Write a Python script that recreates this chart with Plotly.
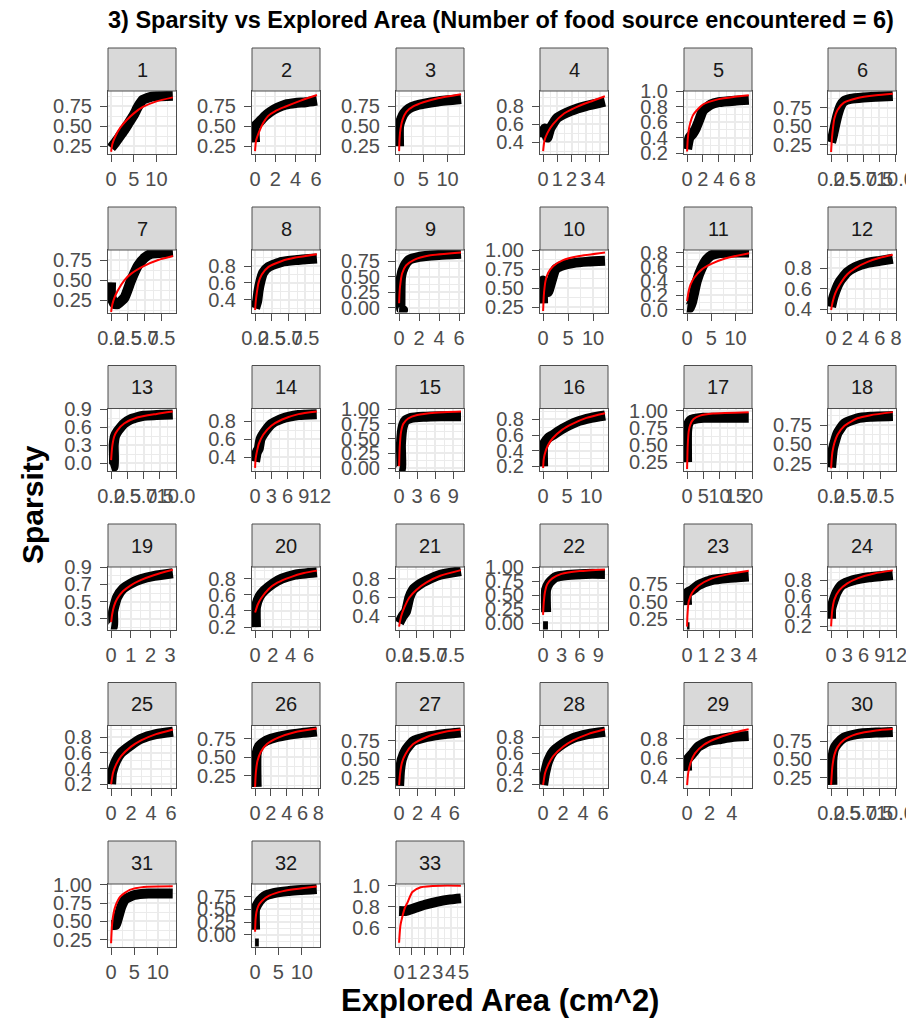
import plotly.graph_objects as go

# ---------------- data ----------------
panel_labels = ["1", "2", "3", "4", "5", "6", "7", "8", "9", "10", "11", "12",
                "13", "14", "15", "16", "17", "18", "19", "20", "21", "22", "23", "24",
                "25", "26", "27", "28", "29", "30", "31", "32", "33"]

# x tick sets
XA_V, XA_T = [0, 5, 10], ["0", "5", "10"]
XB_V, XB_T = [0, 2, 4, 6], ["0", "2", "4", "6"]
XC_V, XC_T = [0, 1, 2, 3, 4], ["0", "1", "2", "3", "4"]
XD_V, XD_T = [0, 2, 4, 6, 8], ["0", "2", "4", "6", "8"]
XE_V, XE_T = [0, 2.5, 5, 7.5, 10], ["0.0", "2.5", "5.0", "7.5", "10.0"]
XF_V, XF_T = [0, 2.5, 5, 7.5], ["0.0", "2.5", "5.0", "7.5"]
XG_V, XG_T = [0, 3, 6, 9, 12], ["0", "3", "6", "9", "12"]
XH_V, XH_T = [0, 3, 6, 9], ["0", "3", "6", "9"]
XI_V, XI_T = [0, 5, 10, 15, 20], ["0", "5", "10", "15", "20"]
XJ_V, XJ_T = [0, 1, 2, 3], ["0", "1", "2", "3"]
XK_V, XK_T = [0, 2, 4], ["0", "2", "4"]
XL_V, XL_T = [0, 1, 2, 3, 4, 5], ["0", "1", "2", "3", "4", "5"]

# y tick sets
YA_V, YA_T = [0.25, 0.5, 0.75], ["0.25", "0.50", "0.75"]
YB_V, YB_T = [0.4, 0.6, 0.8], ["0.4", "0.6", "0.8"]
YC_V, YC_T = [0.2, 0.4, 0.6, 0.8, 1.0], ["0.2", "0.4", "0.6", "0.8", "1.0"]
YD_V, YD_T = [0, 0.25, 0.5, 0.75], ["0.00", "0.25", "0.50", "0.75"]
YE_V, YE_T = [0.25, 0.5, 0.75, 1.0], ["0.25", "0.50", "0.75", "1.00"]
YF_V, YF_T = [0, 0.2, 0.4, 0.6, 0.8], ["0.0", "0.2", "0.4", "0.6", "0.8"]
YG_V, YG_T = [0, 0.3, 0.6, 0.9], ["0.0", "0.3", "0.6", "0.9"]
YH_V, YH_T = [0, 0.25, 0.5, 0.75, 1.0], ["0.00", "0.25", "0.50", "0.75", "1.00"]
YI_V, YI_T = [0.2, 0.4, 0.6, 0.8], ["0.2", "0.4", "0.6", "0.8"]
YJ_V, YJ_T = [0.3, 0.5, 0.7, 0.9], ["0.3", "0.5", "0.7", "0.9"]
YK_V, YK_T = [0.6, 0.8, 1.0], ["0.6", "0.8", "1.0"]

x_tick_vals = [XA_V, XB_V, XA_V, XC_V, XD_V, XE_V,
               XF_V, XF_V, XB_V, XA_V, XA_V, XD_V,
               XE_V, XG_V, XH_V, XA_V, XI_V, XF_V,
               XJ_V, XB_V, XF_V, XH_V, XC_V, XG_V,
               XB_V, XD_V, XB_V, XB_V, XK_V, XE_V,
               XA_V, XA_V, XL_V]
x_tick_text = [XA_T, XB_T, XA_T, XC_T, XD_T, XE_T,
               XF_T, XF_T, XB_T, XA_T, XA_T, XD_T,
               XE_T, XG_T, XH_T, XA_T, XI_T, XF_T,
               XJ_T, XB_T, XF_T, XH_T, XC_T, XG_T,
               XB_T, XD_T, XB_T, XB_T, XK_T, XE_T,
               XA_T, XA_T, XL_T]
y_tick_vals = [YA_V, YA_V, YA_V, YB_V, YC_V, YA_V,
               YA_V, YB_V, YD_V, YE_V, YF_V, YB_V,
               YG_V, YB_V, YH_V, YI_V, YE_V, YA_V,
               YJ_V, YI_V, YB_V, YH_V, YA_V, YI_V,
               YI_V, YA_V, YA_V, YI_V, YB_V, YA_V,
               YE_V, YD_V, YK_V]
y_tick_text = [YA_T, YA_T, YA_T, YB_T, YC_T, YA_T,
               YA_T, YB_T, YD_T, YE_T, YF_T, YB_T,
               YG_T, YB_T, YH_T, YI_T, YE_T, YA_T,
               YJ_T, YI_T, YB_T, YH_T, YA_T, YI_T,
               YI_T, YA_T, YA_T, YI_T, YB_T, YA_T,
               YE_T, YD_T, YK_T]

x_ranges = [[-0.68, 14.3], [-0.3, 6.4], [-0.64, 13.4], [-0.22, 4.57], [-0.39, 8.2], [-0.48, 10.1],
            [-0.46, 9.66], [-0.46, 9.66], [-0.31, 6.5], [-0.62, 13.0], [-0.64, 13.4], [-0.38, 8.0],
            [-0.48, 10.0], [-0.57, 12.0], [-0.52, 10.8], [-0.65, 13.5], [-0.95, 20.0], [-0.47, 9.87],
            [-0.16, 3.3], [-0.35, 7.3], [-0.45, 9.45], [-0.5, 10.6], [-0.19, 4.0], [-0.57, 12.0],
            [-0.31, 6.5], [-0.39, 8.2], [-0.34, 7.05], [-0.31, 6.5], [-0.28, 5.8], [-0.48, 10.1],
            [-0.66, 13.9], [-0.66, 13.9], [-0.24, 5.04]]
y_ranges = [[0.158, 0.94], [0.16, 0.94], [0.16, 0.94], [0.273, 0.968], [0.195, 1.005], [0.13, 0.978],
            [0.094, 0.876], [0.25, 0.99], [-0.08, 0.93], [0.18, 1.003], [-0.04, 0.835], [0.366, 0.976],
            [-0.13, 0.91], [0.245, 0.943], [-0.05, 1.01], [0.142, 0.94], [0.12, 1.035], [0.156, 0.967],
            [0.175, 0.903], [0.17, 0.945], [0.26, 0.923], [-0.11, 1.003], [0.11, 0.983], [0.16, 0.974],
            [0.152, 0.95], [0.086, 0.93], [0.11, 0.955], [0.162, 0.948], [0.29, 0.94], [0.107, 0.968],
            [0.155, 1.01], [-0.23, 1.0], [0.424, 1.016]]

black_x = [
    [0, 1, 2, 3, 4, 5, 6, 7, 9, 11, 13.6],
    [0, 0, 0.4, 1, 1.5, 2.2, 3, 4, 5, 6.1],
    [0, 0, 0.5, 1, 2, 3.5, 5, 8, 12.8],
    [0, 0.1, 0.3, 0.5, 1, 2, 3, 4.35],
    [0, 0.3, 0.7, 1.1, 1.5, 2, 3, 4, 6, 7.8],
    [0, 0.3, 0.6, 1, 1.5, 2, 3, 5, 7, 9.6],
    [0, 0, 0.5, 1, 2, 3, 4, 5, 6, 7.5, 9.2],
    [0, 0.3, 0.5, 0.8, 1.2, 2, 4, 6, 9.2],
    [0, 0.4, 0.2, 0.2, 0.5, 1, 2, 4, 6.2],
    [0, 0, 0.5, 1, 1.5, 2.5, 4, 6, 9, 12.4],
    [0, 0.5, 1, 1.5, 2, 3, 4, 5, 6.5, 9, 12.8],
    [0, 0.3, 1, 2, 3, 4.5, 6, 7.6],
    [0, 0.4, 0.4, 0.6, 1, 1.5, 2, 3, 5, 7, 9.5],
    [0, 0.3, 0.7, 1, 2, 3, 5, 8, 11.4],
    [0, 0.3, 0.3, 0.6, 1, 2, 4, 7, 10.3],
    [0, 0, 0.3, 1, 2, 4, 7, 10, 12.9],
    [0, 0, 0.3, 1, 2, 5, 10, 19],
    [0, 0.1, 0.3, 1, 2, 4, 6, 9.4],
    [0, 0.1, 0.1, 0.3, 0.6, 1, 1.5, 2.2, 3.14],
    [0.1, 0.1, 0.5, 1, 2, 3, 4.5, 6.95],
    [0, 0.5, 1, 1.5, 2, 3, 4, 6, 9],
    [0, 0.8, None, 0.5, 0.5, 1, 2, 4, 7, 10.1],
    [0, 0.15, None, 0, 0, 0.3, 0.7, 1.5, 2.5, 3.8],
    [0, 0, 0.3, 1, 2, 4, 7, 11.4],
    [0, 0.1, 0.5, 1, 2, 3, 4.5, 6.2],
    [0.2, 0.2, 0.5, 1, 2, 4, 6, 7.8],
    [0, 0.1, 0.3, 0.7, 1.5, 3, 5, 6.7],
    [0, 0.2, 0.5, 1, 2, 3, 4.5, 6.2],
    [0, 0, 0.5, 1, 2, 3, 4, 5.5],
    [0.2, 0.2, 0.5, 1, 2, 4, 7, 9.6],
    [0, 0.5, 1, 1.5, 2.2, 3, 5, 8, 13.2],
    [0, 0.8, None, 0, 0, 0.5, 1, 2, 4, 7, 13.2],
    [0, 0.5, 1, 2, 3, 4, 4.8],
]
black_y = [
    [0.23, 0.3, 0.38, 0.46, 0.55, 0.64, 0.75, 0.83, 0.87, 0.875, 0.88],
    [0.3, 0.5, 0.55, 0.63, 0.68, 0.73, 0.77, 0.79, 0.8, 0.82],
    [0.25, 0.5, 0.6, 0.66, 0.72, 0.76, 0.78, 0.81, 0.84],
    [0.45, 0.55, 0.45, 0.55, 0.67, 0.75, 0.8, 0.85],
    [0.25, 0.4, 0.45, 0.52, 0.62, 0.75, 0.83, 0.86, 0.88, 0.89],
    [0.28, 0.38, 0.5, 0.65, 0.78, 0.84, 0.87, 0.89, 0.9, 0.91],
    [0.47, 0.3, 0.2, 0.2, 0.28, 0.5, 0.68, 0.78, 0.83, 0.84, 0.85],
    [0.3, 0.38, 0.5, 0.62, 0.72, 0.79, 0.85, 0.87, 0.89],
    [-0.04, -0.04, -0.02, 0.5, 0.66, 0.77, 0.82, 0.85, 0.87],
    [0.3, 0.6, 0.55, 0.45, 0.55, 0.75, 0.8, 0.83, 0.85, 0.86],
    [0.02, 0.02, 0.1, 0.25, 0.4, 0.58, 0.7, 0.76, 0.79, 0.8, 0.8],
    [0.42, 0.52, 0.66, 0.76, 0.81, 0.85, 0.87, 0.89],
    [-0.08, -0.06, 0.3, 0.45, 0.53, 0.6, 0.66, 0.73, 0.79, 0.8, 0.81],
    [0.35, 0.45, 0.5, 0.6, 0.7, 0.77, 0.83, 0.87, 0.88],
    [-0.03, -0.03, 0.4, 0.7, 0.8, 0.85, 0.87, 0.88, 0.88],
    [0.2, 0.45, 0.5, 0.56, 0.6, 0.68, 0.77, 0.82, 0.85],
    [0.25, 0.7, 0.8, 0.86, 0.88, 0.9, 0.9, 0.9],
    [0.2, 0.3, 0.45, 0.65, 0.77, 0.84, 0.86, 0.87],
    [0.21, 0.21, 0.38, 0.55, 0.65, 0.71, 0.76, 0.8, 0.83],
    [0.2, 0.45, 0.58, 0.65, 0.74, 0.8, 0.85, 0.88],
    [0.33, 0.4, 0.45, 0.6, 0.68, 0.74, 0.78, 0.84, 0.88],
    [-0.05, -0.05, None, 0.2, 0.6, 0.72, 0.82, 0.86, 0.88, 0.88],
    [0.14, 0.14, None, 0.45, 0.62, 0.66, 0.73, 0.8, 0.83, 0.85],
    [0.3, 0.42, 0.5, 0.64, 0.74, 0.8, 0.84, 0.87],
    [0.2, 0.35, 0.5, 0.6, 0.7, 0.78, 0.84, 0.87],
    [0.1, 0.55, 0.65, 0.7, 0.75, 0.8, 0.83, 0.85],
    [0.14, 0.35, 0.5, 0.62, 0.74, 0.8, 0.84, 0.86],
    [0.2, 0.35, 0.5, 0.62, 0.72, 0.79, 0.84, 0.87],
    [0.47, 0.58, 0.65, 0.72, 0.78, 0.8, 0.82, 0.83],
    [0.15, 0.5, 0.65, 0.72, 0.8, 0.85, 0.87, 0.88],
    [0.45, 0.45, 0.45, 0.55, 0.7, 0.8, 0.86, 0.88, 0.88],
    [-0.17, -0.17, None, 0.1, 0.5, 0.6, 0.67, 0.76, 0.82, 0.86, 0.9],
    [0.76, 0.76, 0.78, 0.82, 0.85, 0.87, 0.88],
]

# fitted curve (red)
red_x = [
    [0, 0.3, 1, 2, 3.5, 5, 7, 10, 13.6],
    [0, 0.1, 0.4, 0.8, 1.3, 2, 2.9, 4.5, 6.1],
    [0, 0.1, 0.3, 0.7, 1.5, 3, 5, 8, 12.8],
    [0, 0.1, 0.3, 0.7, 1.5, 2.5, 3.5, 4.35],
    [0, 0.1, 0.3, 0.8, 2, 4, 6, 7.8],
    [0, 0.1, 0.2, 0.5, 1, 2, 4, 7, 9.6],
    [0, 0.2, 0.5, 1, 2, 3, 5, 7, 9.2],
    [0, 0.1, 0.2, 0.5, 1, 2, 4, 6, 9.2],
    [0, 0.05, 0.1, 0.3, 0.7, 1.5, 3, 6.2],
    [0, 0.1, 0.2, 0.5, 1, 2, 4, 7, 12.4],
    [0, 0.3, 0.7, 1.5, 3, 5, 8, 12.8],
    [0, 0.2, 0.5, 1, 2, 3, 4.5, 6, 7.6],
    [0, 0.1, 0.2, 0.5, 1, 2, 4, 7, 9.5],
    [0, 0.1, 0.3, 0.7, 1.5, 3, 5, 8, 11.4],
    [0, 0.05, 0.1, 0.3, 0.7, 1.5, 3, 6, 10.3],
    [0, 0.1, 0.3, 1, 2, 4, 6, 9, 12.9],
    [0, 0.1, 0.2, 0.5, 1, 2, 4, 8, 19],
    [0, 0.1, 0.2, 0.5, 1, 2, 4, 6, 9.4],
    [0, 0.05, 0.15, 0.3, 0.6, 1, 1.5, 2.2, 3.14],
    [0, 0.3, 0.7, 1.5, 2.5, 4, 5.5, 6.95],
    [0, 0.3, 0.8, 1.5, 2.5, 4, 6, 9],
    [0, 0.1, 0.3, 0.7, 1.5, 3, 6, 10.1],
    [0, 0.02, 0.1, 0.3, 0.7, 1.5, 2.5, 3.8],
    [0, 0.2, 0.6, 1.5, 3, 5, 8, 11.4],
    [0, 0.2, 0.5, 1, 2, 3, 4.5, 6.2],
    [0, 0.1, 0.3, 0.7, 1.5, 3, 5, 7.8],
    [0, 0.1, 0.3, 0.7, 1.5, 3, 5, 6.7],
    [0, 0.2, 0.5, 1, 2, 3, 4.5, 6.2],
    [0, 0.1, 0.3, 0.7, 1.5, 2.5, 4, 5.5],
    [0, 0.2, 0.5, 1, 2, 4, 7, 9.6],
    [0, 0.2, 0.5, 1, 2, 4, 7, 13.2],
    [0, 0.1, 0.3, 0.7, 1.5, 3, 6, 13.2],
    [0, 0.1, 0.26, 0.45, 0.65, 1.03, 1.68, 3.2, 4.8],
]
red_y = [
    [0.18, 0.28, 0.38, 0.48, 0.58, 0.66, 0.74, 0.81, 0.86],
    [0.19, 0.32, 0.43, 0.54, 0.63, 0.69, 0.74, 0.82, 0.89],
    [0.19, 0.35, 0.47, 0.58, 0.68, 0.75, 0.8, 0.85, 0.9],
    [0.3, 0.42, 0.5, 0.6, 0.72, 0.8, 0.86, 0.91],
    [0.22, 0.4, 0.55, 0.7, 0.83, 0.9, 0.93, 0.95],
    [0.15, 0.3, 0.4, 0.6, 0.72, 0.82, 0.88, 0.92, 0.94],
    [0.1, 0.2, 0.28, 0.37, 0.5, 0.58, 0.68, 0.75, 0.8],
    [0.28, 0.38, 0.45, 0.6, 0.7, 0.79, 0.86, 0.9, 0.94],
    [0.07, 0.25, 0.35, 0.55, 0.68, 0.77, 0.84, 0.89],
    [0.2, 0.35, 0.45, 0.6, 0.7, 0.79, 0.87, 0.92, 0.97],
    [0.12, 0.25, 0.35, 0.45, 0.56, 0.64, 0.72, 0.79],
    [0.39, 0.47, 0.55, 0.63, 0.74, 0.8, 0.86, 0.9, 0.93],
    [0.05, 0.2, 0.3, 0.45, 0.55, 0.66, 0.76, 0.82, 0.86],
    [0.28, 0.38, 0.45, 0.55, 0.65, 0.75, 0.82, 0.88, 0.91],
    [0.03, 0.22, 0.35, 0.6, 0.75, 0.84, 0.9, 0.94, 0.96],
    [0.18, 0.28, 0.35, 0.47, 0.56, 0.67, 0.74, 0.82, 0.88],
    [0.15, 0.35, 0.5, 0.7, 0.8, 0.88, 0.93, 0.96, 0.98],
    [0.19, 0.32, 0.4, 0.52, 0.63, 0.74, 0.84, 0.88, 0.92],
    [0.26, 0.35, 0.45, 0.53, 0.62, 0.69, 0.75, 0.81, 0.87],
    [0.38, 0.48, 0.56, 0.67, 0.75, 0.82, 0.87, 0.9],
    [0.29, 0.4, 0.5, 0.6, 0.68, 0.76, 0.83, 0.89],
    [0.15, 0.35, 0.55, 0.7, 0.8, 0.88, 0.93, 0.96],
    [0.15, 0.3, 0.5, 0.62, 0.72, 0.82, 0.88, 0.93],
    [0.2, 0.4, 0.55, 0.67, 0.76, 0.83, 0.89, 0.93],
    [0.2, 0.35, 0.45, 0.56, 0.68, 0.76, 0.84, 0.9],
    [0.1, 0.3, 0.45, 0.57, 0.68, 0.77, 0.84, 0.89],
    [0.15, 0.3, 0.45, 0.57, 0.7, 0.8, 0.87, 0.9],
    [0.2, 0.35, 0.45, 0.56, 0.68, 0.76, 0.84, 0.9],
    [0.32, 0.45, 0.55, 0.65, 0.74, 0.8, 0.86, 0.9],
    [0.15, 0.4, 0.56, 0.67, 0.77, 0.85, 0.9, 0.92],
    [0.2, 0.45, 0.6, 0.72, 0.84, 0.93, 0.97, 0.98],
    [0.06, 0.3, 0.45, 0.57, 0.67, 0.77, 0.86, 0.95],
    [0.46, 0.62, 0.71, 0.79, 0.84, 0.94, 0.985, 1.0, 1.0],
]

# ---------------- layout geometry (pixels in the browser window) ----------------
W, H = 914, 1020
PAGE_OFF = 8          # the page body margin shifts the figure by this much
COL_LEFT = [108, 252, 396, 540, 684, 828]
ROW_TOP = [91, 250, 408.5, 567, 725.5, 884]
PW, PH, SH = 68, 62.5, 43
FONT = "Liberation Sans, Arial, Helvetica, sans-serif"
TICKFONT = dict(family=FONT, size=20, color="#4D4D4D")


def px(x):
    return (x - PAGE_OFF) / W


def py(y):
    return 1 - (y - PAGE_OFF) / H


def minor_vals(vals):
    step = vals[1] - vals[0]
    return [vals[0] - step / 2] + [v + step / 2 for v in vals]


fig = go.Figure()
layout = {}
shapes = []
annotations = []

for i, lab in enumerate(panel_labels):
    r, c = divmod(i, 6)
    suffix = "" if i == 0 else str(i + 1)
    xa, ya = "x" + suffix, "y" + suffix
    fig.add_trace(go.Scatter(x=black_x[i], y=black_y[i], mode="lines",
                             line=dict(color="black", width=10, shape="spline", smoothing=0.5),
                             xaxis=xa, yaxis=ya, showlegend=False, hoverinfo="skip"))
    fig.add_trace(go.Scatter(x=red_x[i], y=red_y[i], mode="lines",
                             line=dict(color="#FF0000", width=2, shape="spline", smoothing=0.6),
                             xaxis=xa, yaxis=ya, showlegend=False, hoverinfo="skip"))
    L, T = COL_LEFT[c], ROW_TOP[r]
    common = dict(showline=True, mirror=True, linecolor="#4D4D4D", linewidth=1,
                  showgrid=True, gridcolor="#EBEBEB", gridwidth=1.6, zeroline=False,
                  ticks="outside", ticklen=7, tickwidth=1.4, tickcolor="#4D4D4D",
                  tickfont=TICKFONT, tickmode="array", tickangle=0,
                  automargin=False, fixedrange=True)
    layout["xaxis" + suffix] = dict(
        common, domain=[px(L), px(L + PW)], anchor=ya, range=x_ranges[i],
        tickvals=x_tick_vals[i], ticktext=x_tick_text[i],
        minor=dict(tickmode="array", tickvals=minor_vals(x_tick_vals[i]),
                   showgrid=True, gridcolor="#EBEBEB", gridwidth=0.8, ticks=""))
    layout["yaxis" + suffix] = dict(
        common, domain=[py(T + PH), py(T)], anchor=xa, range=y_ranges[i],
        tickvals=y_tick_vals[i], ticktext=y_tick_text[i], ticklabelstandoff=4,
        minor=dict(tickmode="array", tickvals=minor_vals(y_tick_vals[i]),
                   showgrid=True, gridcolor="#EBEBEB", gridwidth=0.8, ticks=""))
    # facet strip
    shapes.append(dict(type="rect", xref="paper", yref="paper",
                       x0=px(L), x1=px(L + PW), y0=py(T), y1=py(T - SH),
                       fillcolor="#D9D9D9", line=dict(color="#4D4D4D", width=1)))
    annotations.append(dict(text=lab, xref="paper", yref="paper",
                            x=px(L + PW / 2), y=py(T - SH / 2),
                            showarrow=False, xanchor="center", yanchor="middle",
                            font=dict(family=FONT, size=20, color="#1A1A1A")))

annotations.append(dict(text="<b>3) Sparsity vs Explored Area (Number of food source encountered = 6)</b>",
                        xref="paper", yref="paper", x=px(501), y=py(20),
                        showarrow=False, xanchor="center", yanchor="middle",
                        font=dict(family=FONT, size=23.5, color="black")))
annotations.append(dict(text="<b>Sparsity</b>", xref="paper", yref="paper",
                        x=px(32), y=py(505), textangle=-90,
                        showarrow=False, xanchor="center", yanchor="middle",
                        font=dict(family=FONT, size=30, color="black")))
annotations.append(dict(text="<b>Explored Area (cm^2)</b>", xref="paper", yref="paper",
                        x=px(500), y=py(1000),
                        showarrow=False, xanchor="center", yanchor="middle",
                        font=dict(family=FONT, size=31, color="black")))

fig.update_layout(
    width=W, height=H, margin=dict(l=0, r=0, t=0, b=0, autoexpand=False),
    paper_bgcolor="white", plot_bgcolor="white",
    shapes=shapes, annotations=annotations, showlegend=False,
    **layout,
)

fig.write_html("out.html")
